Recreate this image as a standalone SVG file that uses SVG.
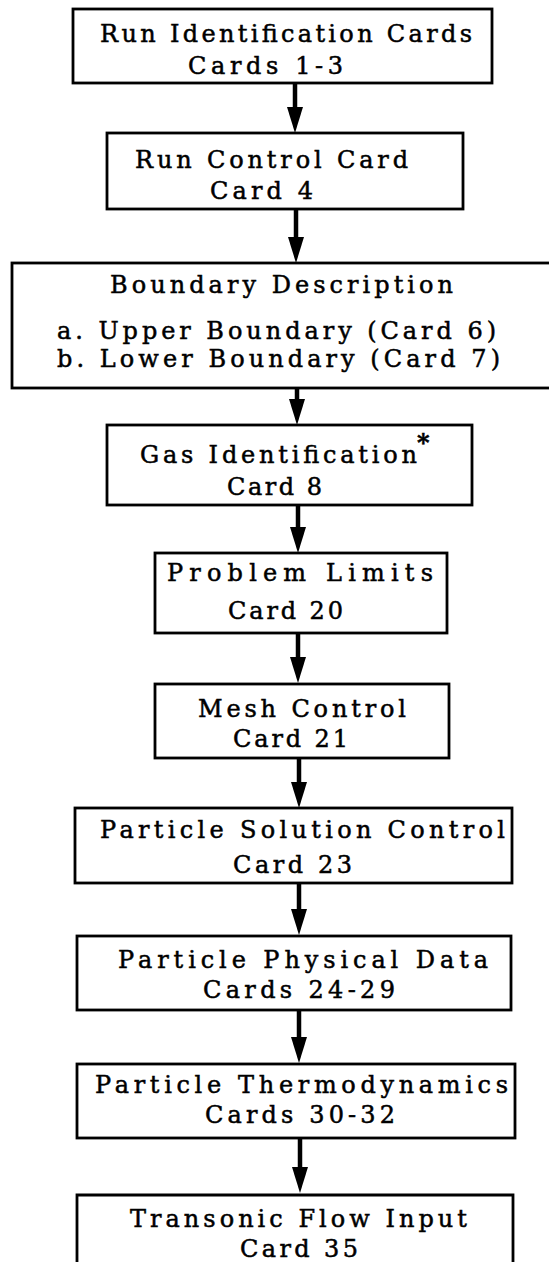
<svg xmlns="http://www.w3.org/2000/svg" width="549" height="1262" viewBox="0 0 549 1262">
<style>
.box{fill:#fff;stroke:#000;stroke-width:2.8}
.t{font-family:"DejaVu Serif","Liberation Serif",serif;font-size:24px;fill:#000;stroke:#000;stroke-width:0.5}
.c{stroke:#000;stroke-width:4.5;fill:none}
</style>
<defs>
<marker id="ah" markerUnits="userSpaceOnUse" viewBox="0 0 26 16" markerWidth="26" markerHeight="16" refX="0" refY="8" orient="auto">
<path d="M0,0 L26,8 L0,16 Z" fill="#000"/>
</marker>
</defs>
<g id="connectors">
<line class="c" x1="295" y1="83" x2="295" y2="107" marker-end="url(#ah)"/>
<line class="c" x1="296" y1="209" x2="296" y2="237" marker-end="url(#ah)"/>
<line class="c" x1="297" y1="388" x2="297" y2="399" marker-end="url(#ah)"/>
<line class="c" x1="298" y1="505" x2="298" y2="527" marker-end="url(#ah)"/>
<line class="c" x1="298" y1="633" x2="298" y2="657" marker-end="url(#ah)"/>
<line class="c" x1="299" y1="758" x2="299" y2="782" marker-end="url(#ah)"/>
<line class="c" x1="299" y1="883" x2="299" y2="909" marker-end="url(#ah)"/>
<line class="c" x1="299" y1="1010" x2="299" y2="1037" marker-end="url(#ah)"/>
<line class="c" x1="300" y1="1138" x2="300" y2="1167" marker-end="url(#ah)"/>
</g>
<g id="n1">
<rect class="box" x="73" y="9" width="419" height="74"/>
<text class="t" x="100" y="42" textLength="372" lengthAdjust="spacing">Run Identification Cards</text>
<text class="t" x="188" y="74" textLength="155" lengthAdjust="spacing">Cards 1-3</text>
</g>
<g id="n2">
<rect class="box" x="107" y="133" width="356" height="76"/>
<text class="t" x="135" y="168" textLength="273" lengthAdjust="spacing">Run Control Card</text>
<text class="t" x="210" y="199" textLength="103" lengthAdjust="spacing">Card 4</text>
</g>
<g id="n3">
<rect class="box" x="12" y="263" width="560" height="125"/>
<text class="t" x="110" y="293" textLength="343" lengthAdjust="spacing">Boundary Description</text>
<text class="t" x="57" y="339" textLength="439" lengthAdjust="spacing">a. Upper Boundary (Card 6)</text>
<text class="t" x="57" y="367" textLength="443" lengthAdjust="spacing">b. Lower Boundary (Card 7)</text>
</g>
<g id="n4">
<rect class="box" x="107" y="425" width="365" height="80"/>
<text class="t" x="140" y="463"><tspan textLength="277" lengthAdjust="spacing">Gas Identification</tspan><tspan x="417" y="451" font-weight="bold">*</tspan></text>
<text class="t" x="227" y="495" textLength="95" lengthAdjust="spacing">Card 8</text>
</g>
<g id="n5">
<rect class="box" x="155" y="553" width="292" height="80"/>
<text class="t" x="167" y="581" textLength="266" lengthAdjust="spacing">Problem Limits</text>
<text class="t" x="228" y="619" textLength="115" lengthAdjust="spacing">Card 20</text>
</g>
<g id="n6">
<rect class="box" x="155" y="684" width="294" height="74"/>
<text class="t" x="198" y="717" textLength="208" lengthAdjust="spacing">Mesh Control</text>
<text class="t" x="233" y="747" textLength="115" lengthAdjust="spacing">Card 21</text>
</g>
<g id="n7">
<rect class="box" x="75" y="808" width="437" height="75"/>
<text class="t" x="100" y="838" textLength="405" lengthAdjust="spacing">Particle Solution Control</text>
<text class="t" x="233" y="873" textLength="119" lengthAdjust="spacing">Card 23</text>
</g>
<g id="n8">
<rect class="box" x="77" y="936" width="434" height="74"/>
<text class="t" x="118" y="968" textLength="370" lengthAdjust="spacing">Particle Physical Data</text>
<text class="t" x="203" y="998" textLength="192" lengthAdjust="spacing">Cards 24-29</text>
</g>
<g id="n9">
<rect class="box" x="77" y="1064" width="438" height="74"/>
<text class="t" x="95" y="1093" textLength="413" lengthAdjust="spacing">Particle Thermodynamics</text>
<text class="t" x="205" y="1123" textLength="190" lengthAdjust="spacing">Cards 30-32</text>
</g>
<g id="n10">
<path class="box" d="M77,1264 V1195 H513 V1264"/>
<text class="t" x="130" y="1227" textLength="337" lengthAdjust="spacing">Transonic Flow Input</text>
<text class="t" x="240" y="1257" textLength="118" lengthAdjust="spacing">Card 35</text>
</g>
</svg>
